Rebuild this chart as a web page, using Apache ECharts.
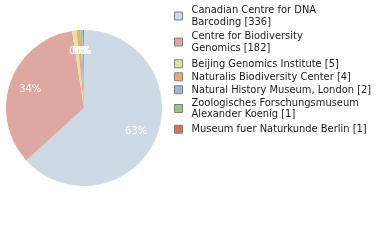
<!DOCTYPE html>
<html><head><meta charset="utf-8">
<script src="https://cdn.jsdelivr.net/npm/echarts@6/dist/echarts.min.js"></script>
<style>html,body{margin:0;padding:0;background:#fff}#c{width:380px;height:240px}</style>
</head><body><div id="c"></div>
<script>
const names = ["Canadian Centre for DNA Barcoding","Centre for Biodiversity Genomics","Beijing Genomics Institute","Naturalis Biodiversity Center","Natural History Museum, London","Zoologisches Forschungsmuseum Alexander Koenig","Museum fuer Naturkunde Berlin"];
const legendLabels = ["Canadian Centre for DNA\nBarcoding [336]","Centre for Biodiversity\nGenomics [182]","Beijing Genomics Institute [5]","Naturalis Biodiversity Center [4]","Natural History Museum, London [2]","Zoologisches Forschungsmuseum\nAlexander Koenig [1]","Museum fuer Naturkunde Berlin [1]"];
const values = [336,182,5,4,2,1,1];
const colors = ["#cdd9e5","#dea8a0","#dfe3a0","#f0aa6c","#98b8dc","#9cc67a","#dc7058"];
const legendTops = [4.5,30.5,58,71,84,97,123.5];

const total = values.reduce((a,b)=>a+b,0);
const FONT = "'DejaVu Sans Condensed','DejaVu Sans'";
const data = names.map((n,i)=>({name:n,value:values[i],itemStyle:{color:colors[i]}}));
const chart = echarts.init(document.getElementById('c'),null,{renderer:'canvas'});
const legends = names.map((n,i)=>({
  data:[n], orient:'vertical', left:174, top:legendTops[i], padding:0,
  itemWidth:8, itemHeight:8, icon:'rect', itemGap:0,
  itemStyle:{borderColor:'#808080',borderWidth:1},
  selectedMode:false,
  formatter:()=>legendLabels[i],
  textStyle:{fontFamily:FONT,fontSize:11,color:'#1a1a1a',lineHeight:11.5,padding:[0,0,0,4]}
}));
chart.setOption({
  animation:false,
  legend:legends,
  series:[
    {type:'pie',center:[84,108],radius:78,startAngle:90,clockwise:true,
     data:data,label:{show:false},labelLine:{show:false},silent:true,
     emphasis:{disabled:true}},
    {type:'pie',center:[84,108],radius:[30,78],startAngle:90,clockwise:true,
     data:names.map((n,i)=>({name:n+' ','value':values[i]})),
     itemStyle:{color:'rgba(0,0,0,0)'},silent:true,legendHoverLink:false,
     label:{show:true,position:'inside',color:'#fff',fontFamily:FONT,fontSize:11,
       formatter:p=>Math.floor(p.value/total*100)+'%'},
     labelLayout:{hideOverlap:false},
     emphasis:{disabled:true}}
  ]
});
</script></body></html>
